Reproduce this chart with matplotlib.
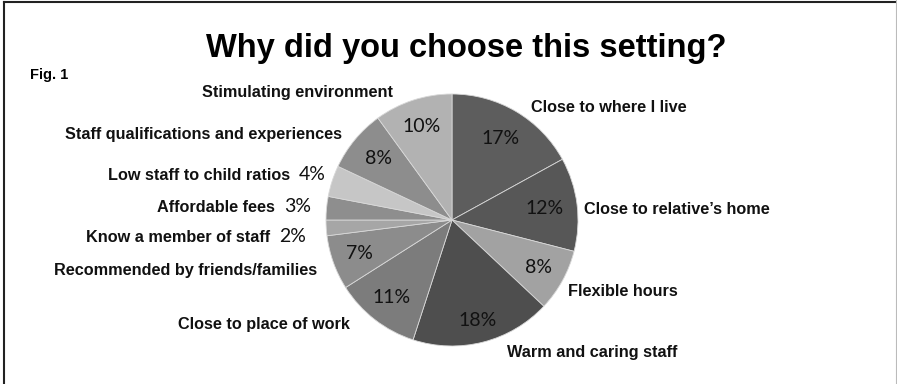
import numpy as np
import matplotlib
matplotlib.use('Agg')
import matplotlib.pyplot as plt
from matplotlib.lines import Line2D

labels = ['Close to where I live', "Close to relative\u2019s home", 'Flexible hours',
          'Warm and caring staff', 'Close to place of work', 'Recommended by friends/families',
          'Know a member of staff', 'Affordable fees', 'Low staff to child ratios',
          'Staff qualifications and experiences', 'Stimulating environment']
values = [17, 12, 8, 18, 11, 7, 2, 3, 4, 8, 10]
colors = ['#5d5d5d', '#575757', '#a2a2a2', '#4e4e4e', '#7c7c7c', '#8c8c8c',
          '#a6a6a6', '#8e8e8e', '#c6c6c6', '#8d8d8d', '#b2b2b2']

W, H = 897, 384
fig = plt.figure(figsize=(W / 100, H / 100), dpi=100)
ax = fig.add_axes([0, 0, 1, 1])

cx, cy, r = 452, H - 220, 126
wedges, _ = ax.pie(values, colors=colors, startangle=90, counterclock=False,
                   center=(cx, cy), radius=r, frame=True,
                   wedgeprops=dict(edgecolor='#d8d8d8', linewidth=0.6))
ax.set_xlim(0, W)
ax.set_ylim(0, H)
ax.set_aspect('equal')
ax.axis('off')

pct_font = dict(family='Lato', fontsize=14, color='#111111')
lab_font = dict(family='Liberation Sans', fontweight='bold', fontsize=11.7, color='#111111')

# percentages inside the slices
dist = [0.75, 0.74, 0.78, 0.82, 0.78, 0.78, None, None, None, 0.76, 0.78]
for w, v, d in zip(wedges, values, dist):
    if d is None:
        continue
    ang = np.deg2rad((w.theta1 + w.theta2) / 2)
    ax.text(cx + d * r * np.cos(ang), cy + d * r * np.sin(ang), f'{v}%',
            ha='center', va='center', **pct_font)

# category labels (x, y in image pixels, alignment)
pos = [(531, 108, 'left'), (584, 210, 'left'), (568, 292, 'left'), (507, 352, 'left'),
       (350, 325, 'right'), (317, 270, 'right'), (270, 237, 'right'), (275, 207, 'right'),
       (290, 175, 'right'), (342, 135, 'right'), (393, 93, 'right')]
for lab, v, (x, y, ha) in zip(labels, values, pos):
    ax.text(x, H - y, lab, ha=ha, va='center', **lab_font)
    if v <= 4:
        ax.text(x + 9, H - y, f'{v}%', ha='left', va='center', **pct_font)

fig.text(30 / W, 1 - 75 / H, 'Fig. 1', family='Liberation Sans', fontweight='bold',
         fontsize=10.5, ha='left', va='center')
fig.text(466 / W, 1 - 48 / H, 'Why did you choose this setting?', family='Liberation Sans',
         fontweight='bold', fontsize=23.5, ha='center', va='center')

# frame around the figure
fig.add_artist(Line2D([4 / W, 4 / W], [0, 1 - 1.5 / H], color='#222222', lw=1.5))
fig.add_artist(Line2D([4 / W, 1], [1 - 1.5 / H, 1 - 1.5 / H], color='#222222', lw=1.5))
fig.add_artist(Line2D([895.5 / W, 895.5 / W], [0, 1], color='#bbbbbb', lw=0.8))

fig.savefig('out.png', dpi=100)
